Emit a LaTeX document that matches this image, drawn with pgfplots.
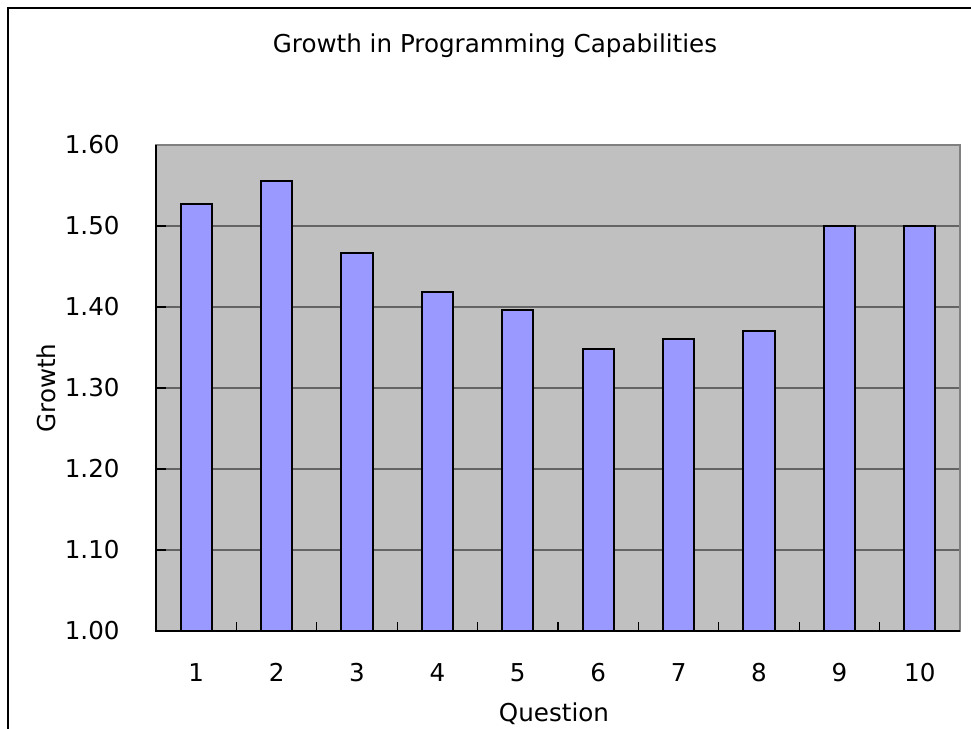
\documentclass[border=0pt]{standalone}
\usepackage{fontspec}
\setmainfont{DejaVu Sans}
\usepackage{pgfplots}
\pgfplotsset{compat=1.18}
\definecolor{plotbg}{RGB}{192,192,192}
\definecolor{barfill}{RGB}{153,153,255}
\definecolor{gridc}{RGB}{100,100,100}
\definecolor{boxc}{RGB}{128,128,128}
\newcommand{\lblfont}{\fontsize{12.3}{15}\selectfont}
\begin{document}
\begin{tikzpicture}
\path[use as bounding box] (0pt,0pt) rectangle (485.5pt,364.5pt);
\draw[line width=1pt] (4pt,0pt) -- (4pt,360.5pt) -- (485.5pt,360.5pt);
\node[anchor=base, font=\lblfont] at (247.5pt,338pt) {Growth in Programming Capabilities};
\begin{axis}[
  at={(78pt,49pt)}, anchor=south west,
  width=402pt, height=243pt, scale only axis,
  xmin=0.5, xmax=10.5, ymin=1, ymax=1.6,
  axis background/.style={fill=plotbg},
  axis line style={draw=boxc, line width=0.7pt},
  ybar, bar width=0.39,
  tick pos=left,
  xtick={1,2,3,4,5,6,7,8,9,10},
  minor xtick={1.5,2.5,3.5,4.5,5.5,6.5,7.5,8.5,9.5,10.5},
  major x tick style={draw=none},
  minor x tick style={black, line width=0.6pt},
  minor tick length=4.5pt,
  ytick={1,1.1,1.2,1.3,1.4,1.5,1.6},
  major y tick style={black, line width=1pt},
  major tick length=5pt,
  tick align=inside,
  ymajorgrids, grid style={draw=gridc, line width=0.6pt},
  /pgf/number format/assume math mode=true,
  yticklabel style={/pgf/number format/.cd, fixed, fixed zerofill, precision=2, /tikz/.cd, anchor=east, inner sep=0pt, xshift=-18pt, font=\lblfont},
  xticklabel style={anchor=base, inner sep=0pt, yshift=-25.5pt, font=\lblfont},
  xlabel={Question},
  xlabel style={at={(axis description cs:0.495,-0.1872)}, anchor=base, inner sep=0pt, font=\lblfont},
  ylabel={Growth},
  ylabel style={at={(axis description cs:-0.1256,0.5)}, anchor=base, rotate=0, inner sep=0pt, font=\lblfont},
  clip=false,
]
\addplot[fill=barfill, draw=black, line width=1pt] coordinates {
  (1,1.527) (2,1.556) (3,1.467) (4,1.419) (5,1.396)
  (6,1.348) (7,1.360) (8,1.370) (9,1.500) (10,1.500)
};
\draw[black, line width=1pt] (axis cs:0.5,1.6) -- (axis cs:0.5,1) -- (axis cs:10.5,1);
\end{axis}
\end{tikzpicture}
\end{document}
